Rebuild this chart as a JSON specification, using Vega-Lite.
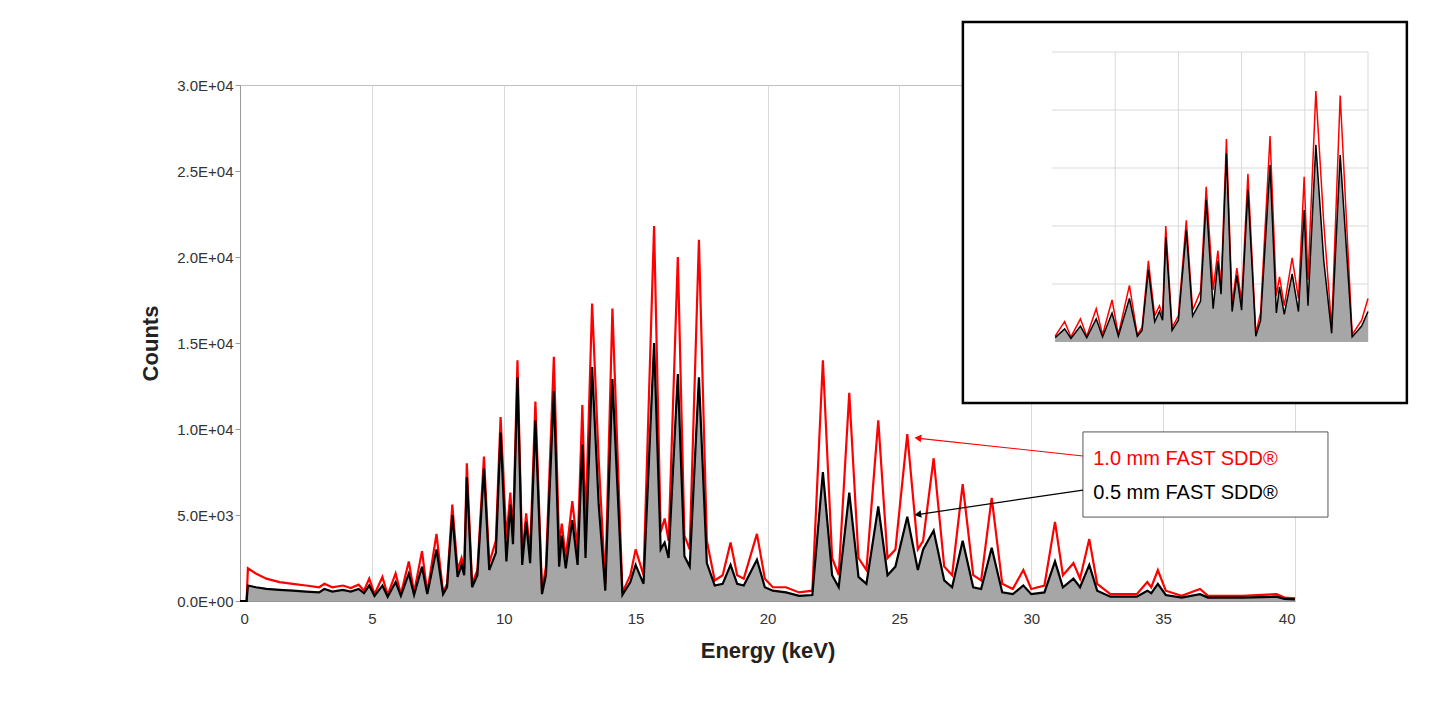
{
  "$schema": "https://vega.github.io/schema/vega-lite/v6.json",
  "autosize": "none",
  "padding": {"left": 240, "top": 85, "right": 142, "bottom": 102},
  "width": 1055,
  "height": 516,
  "background": "white",
  "config": {
    "font": "Liberation Sans",
    "view": {"stroke": "#bfbfbf"},
    "axis": {"labelFont": "Liberation Sans", "titleFont": "Liberation Sans", "labelColor": "#333", "domainColor": "#999", "tickColor": "#999", "gridColor": "#d9d9d9"}
  },
  "datasets": {
    "spec": [
      {"e": 0, "r": 0, "b": 0}, {"e": 0.25, "r": 0, "b": 0}, {"e": 0.3, "r": 1900, "b": 900},
      {"e": 0.6, "r": 1600, "b": 800}, {"e": 1.0, "r": 1300, "b": 700}, {"e": 1.5, "r": 1100, "b": 650},
      {"e": 2.0, "r": 1000, "b": 600}, {"e": 2.5, "r": 900, "b": 550}, {"e": 3.0, "r": 800, "b": 500},
      {"e": 3.2, "r": 1000, "b": 700}, {"e": 3.5, "r": 800, "b": 550}, {"e": 3.9, "r": 900, "b": 650},
      {"e": 4.2, "r": 750, "b": 550}, {"e": 4.5, "r": 950, "b": 700}, {"e": 4.7, "r": 600, "b": 450},
      {"e": 4.9, "r": 1300, "b": 900}, {"e": 5.1, "r": 400, "b": 300}, {"e": 5.4, "r": 1400, "b": 900},
      {"e": 5.6, "r": 350, "b": 250}, {"e": 5.9, "r": 1600, "b": 1100}, {"e": 6.1, "r": 400, "b": 300},
      {"e": 6.4, "r": 2300, "b": 1600}, {"e": 6.6, "r": 500, "b": 350}, {"e": 6.9, "r": 2900, "b": 2000},
      {"e": 7.1, "r": 500, "b": 400}, {"e": 7.45, "r": 3900, "b": 3000}, {"e": 7.7, "r": 500, "b": 400},
      {"e": 7.85, "r": 1000, "b": 800}, {"e": 8.05, "r": 5600, "b": 5000}, {"e": 8.25, "r": 1800, "b": 1400},
      {"e": 8.4, "r": 2500, "b": 2100}, {"e": 8.5, "r": 1800, "b": 1500}, {"e": 8.6, "r": 8000, "b": 7200},
      {"e": 8.8, "r": 1000, "b": 800}, {"e": 9.0, "r": 1800, "b": 1500}, {"e": 9.25, "r": 8400, "b": 7700},
      {"e": 9.45, "r": 2200, "b": 1800}, {"e": 9.7, "r": 3500, "b": 2800}, {"e": 9.88, "r": 10700, "b": 9800},
      {"e": 10.1, "r": 3600, "b": 2300}, {"e": 10.25, "r": 6300, "b": 5600}, {"e": 10.35, "r": 3800, "b": 3300},
      {"e": 10.52, "r": 14000, "b": 13000}, {"e": 10.7, "r": 2600, "b": 2100}, {"e": 10.85, "r": 5100, "b": 4600},
      {"e": 11.0, "r": 2800, "b": 2200}, {"e": 11.2, "r": 11600, "b": 10500}, {"e": 11.45, "r": 600, "b": 400},
      {"e": 11.6, "r": 2000, "b": 1500}, {"e": 11.9, "r": 14200, "b": 12200}, {"e": 12.1, "r": 3200, "b": 2000},
      {"e": 12.2, "r": 4500, "b": 3800}, {"e": 12.35, "r": 2500, "b": 1900}, {"e": 12.6, "r": 5800, "b": 4700},
      {"e": 12.8, "r": 3000, "b": 2100}, {"e": 12.98, "r": 11400, "b": 9100}, {"e": 13.1, "r": 4300, "b": 2500},
      {"e": 13.35, "r": 17300, "b": 13600}, {"e": 13.6, "r": 8200, "b": 5600}, {"e": 13.85, "r": 1000, "b": 600},
      {"e": 14.12, "r": 17000, "b": 12900}, {"e": 14.5, "r": 500, "b": 350}, {"e": 14.8, "r": 1500, "b": 1100},
      {"e": 15.0, "r": 3000, "b": 2100}, {"e": 15.3, "r": 1500, "b": 1000}, {"e": 15.7, "r": 21800, "b": 15000},
      {"e": 15.95, "r": 4000, "b": 3000}, {"e": 16.1, "r": 4800, "b": 3400}, {"e": 16.25, "r": 3500, "b": 2500},
      {"e": 16.6, "r": 20000, "b": 13200}, {"e": 16.85, "r": 3800, "b": 2600}, {"e": 17.05, "r": 3000, "b": 2000},
      {"e": 17.4, "r": 21000, "b": 13000}, {"e": 17.7, "r": 3500, "b": 2200}, {"e": 18.0, "r": 1200, "b": 900},
      {"e": 18.3, "r": 1500, "b": 1000}, {"e": 18.6, "r": 3400, "b": 2100}, {"e": 18.85, "r": 1500, "b": 1000},
      {"e": 19.1, "r": 1300, "b": 900}, {"e": 19.6, "r": 3900, "b": 2400}, {"e": 19.9, "r": 1300, "b": 800},
      {"e": 20.2, "r": 800, "b": 600}, {"e": 20.7, "r": 800, "b": 500}, {"e": 21.2, "r": 500, "b": 300},
      {"e": 21.7, "r": 600, "b": 350}, {"e": 22.1, "r": 14000, "b": 7500}, {"e": 22.45, "r": 2500, "b": 1500},
      {"e": 22.7, "r": 1500, "b": 800}, {"e": 23.1, "r": 12100, "b": 6300}, {"e": 23.45, "r": 2500, "b": 1400},
      {"e": 23.75, "r": 1800, "b": 1000}, {"e": 24.2, "r": 10500, "b": 5500}, {"e": 24.55, "r": 2500, "b": 1500},
      {"e": 24.85, "r": 3000, "b": 2000}, {"e": 25.3, "r": 9700, "b": 4900}, {"e": 25.7, "r": 3000, "b": 1800},
      {"e": 25.9, "r": 3500, "b": 3000}, {"e": 26.3, "r": 8300, "b": 4100}, {"e": 26.7, "r": 2000, "b": 1200},
      {"e": 27.0, "r": 1500, "b": 800}, {"e": 27.4, "r": 6800, "b": 3500}, {"e": 27.8, "r": 1500, "b": 800},
      {"e": 28.1, "r": 1200, "b": 700}, {"e": 28.5, "r": 6000, "b": 3100}, {"e": 28.9, "r": 1000, "b": 500},
      {"e": 29.3, "r": 700, "b": 400}, {"e": 29.7, "r": 1800, "b": 900}, {"e": 30.0, "r": 700, "b": 400},
      {"e": 30.5, "r": 900, "b": 500}, {"e": 30.9, "r": 4600, "b": 2300}, {"e": 31.2, "r": 1500, "b": 800},
      {"e": 31.6, "r": 2200, "b": 1300}, {"e": 31.85, "r": 1300, "b": 800}, {"e": 32.2, "r": 3600, "b": 2100},
      {"e": 32.5, "r": 1000, "b": 600}, {"e": 33.0, "r": 400, "b": 250}, {"e": 34.0, "r": 400, "b": 250},
      {"e": 34.4, "r": 1100, "b": 600}, {"e": 34.55, "r": 800, "b": 450}, {"e": 34.8, "r": 1800, "b": 1000},
      {"e": 35.1, "r": 600, "b": 350}, {"e": 35.7, "r": 300, "b": 200}, {"e": 36.4, "r": 700, "b": 400},
      {"e": 36.7, "r": 300, "b": 200}, {"e": 38.0, "r": 300, "b": 200}, {"e": 39.3, "r": 400, "b": 250},
      {"e": 39.6, "r": 200, "b": 120}, {"e": 40, "r": 150, "b": 100}
    ]
  },
  "resolve": {"scale": {"x": "independent", "y": "independent"}, "axis": {"x": "independent", "y": "independent"}},
  "layer": [
    {
      "data": {"name": "spec"},
      "layer": [
        {
          "mark": {"type": "area", "color": "#a6a6a6"},
          "encoding": {
            "x": {"field": "e", "type": "quantitative", "scale": {"domain": [0, 40], "nice": false},
              "axis": {"orient": "bottom", "values": [0, 5, 10, 15, 20, 25, 30, 35, 40], "title": "Energy (keV)", "titleFontSize": 22, "titleFontWeight": "bold", "titleColor": "#222", "labelFontSize": 15, "titlePadding": 14, "grid": true, "ticks": false, "labelPadding": 10}},
            "y": {"field": "b", "type": "quantitative", "scale": {"domain": [0, 30000], "nice": false},
              "axis": {"orient": "left", "values": [0, 5000, 10000, 15000, 20000, 25000, 30000], "grid": false, "title": "Counts", "titleFontSize": 22, "titleFontWeight": "bold", "titleColor": "#222", "labelFontSize": 15, "titlePadding": 14, "labelExpr": "replace(upper(format(datum.value, '.1e')), 'E+', 'E+0')"}}
          }
        },
        {
          "mark": {"type": "line", "color": "#ff0000", "strokeWidth": 2.2},
          "encoding": {"x": {"field": "e", "type": "quantitative"}, "y": {"field": "r", "type": "quantitative"}}
        },
        {
          "mark": {"type": "line", "color": "#000000", "strokeWidth": 2.2},
          "encoding": {"x": {"field": "e", "type": "quantitative"}, "y": {"field": "b", "type": "quantitative"}}
        },
        {
          "data": {"values": [{"x1": 31.96, "x2": 41.25, "y1": 4880, "y2": 9830}]},
          "mark": {"type": "rect", "fill": "white", "stroke": "#555", "strokeWidth": 1, "clip": false},
          "encoding": {"x": {"field": "x1", "type": "quantitative"}, "x2": {"field": "x2"}, "y": {"field": "y1", "type": "quantitative"}, "y2": {"field": "y2"}}
        },
        {
          "data": {"values": [{"x": 31.96, "y": 8430, "x2": 25.75, "y2": 9460}]},
          "mark": {"type": "rule", "color": "#ff0000", "strokeWidth": 1.2},
          "encoding": {"x": {"field": "x", "type": "quantitative"}, "x2": {"field": "x2"}, "y": {"field": "y", "type": "quantitative"}, "y2": {"field": "y2"}}
        },
        {
          "data": {"values": [{"x": 25.7, "y": 9470}]},
          "mark": {"type": "point", "shape": "triangle-left", "filled": true, "color": "#ff0000", "size": 60, "angle": 6, "opacity": 1},
          "encoding": {"x": {"field": "x", "type": "quantitative"}, "y": {"field": "y", "type": "quantitative"}}
        },
        {
          "data": {"values": [{"x": 31.96, "y": 6450, "x2": 25.75, "y2": 5040}]},
          "mark": {"type": "rule", "color": "#000000", "strokeWidth": 1.2},
          "encoding": {"x": {"field": "x", "type": "quantitative"}, "x2": {"field": "x2"}, "y": {"field": "y", "type": "quantitative"}, "y2": {"field": "y2"}}
        },
        {
          "data": {"values": [{"x": 25.7, "y": 5030}]},
          "mark": {"type": "point", "shape": "triangle-left", "filled": true, "color": "#000000", "size": 60, "angle": -8, "opacity": 1},
          "encoding": {"x": {"field": "x", "type": "quantitative"}, "y": {"field": "y", "type": "quantitative"}}
        },
        {
          "data": {"values": [{"x": 32.35, "y": 8230, "t": "1.0 mm FAST SDD®"}]},
          "mark": {"type": "text", "align": "left", "baseline": "middle", "fontSize": 20, "color": "#ff0000", "clip": false},
          "encoding": {"x": {"field": "x", "type": "quantitative"}, "y": {"field": "y", "type": "quantitative"}, "text": {"field": "t"}}
        },
        {
          "data": {"values": [{"x": 32.35, "y": 6300, "t": "0.5 mm FAST SDD®"}]},
          "mark": {"type": "text", "align": "left", "baseline": "middle", "fontSize": 20, "color": "#000000", "clip": false},
          "encoding": {"x": {"field": "x", "type": "quantitative"}, "y": {"field": "y", "type": "quantitative"}, "text": {"field": "t"}}
        }
      ]
    },
    {
      "layer": [
        {
          "data": {"values": [{"x1": 2.18, "x2": 16.23, "y1": -4207, "y2": 22069}]},
          "mark": {"type": "rect", "fill": "white", "stroke": "black", "strokeWidth": 2.5, "clip": false},
          "encoding": {
            "x": {"field": "x1", "type": "quantitative", "scale": {"domain": [5, 15], "nice": false, "range": [812, 1128]},
              "axis": {"orient": "bottom", "offset": -259, "values": [5, 7, 9, 11, 13, 15], "title": "Energy (keV)", "titleFontSize": 12, "titleFontWeight": "bold", "titleColor": "#222", "labelFontSize": 9, "grid": false, "ticks": false, "titlePadding": 6}},
            "x2": {"field": "x2"},
            "y": {"field": "y1", "type": "quantitative", "scale": {"domain": [0, 20000], "nice": false, "range": [257, -33]},
              "axis": {"orient": "left", "offset": -812, "values": [0, 4000, 8000, 12000, 16000, 20000], "grid": false, "title": "Counts", "titleFontSize": 12, "titleFontWeight": "bold", "titleColor": "#222", "labelFontSize": 9, "titlePadding": 6, "labelExpr": "replace(upper(format(datum.value, '.1e')), 'E+', 'E+0')"}},
            "y2": {"field": "y2"}
          }
        },
        {
          "data": {"values": [{"g": 7}, {"g": 9}, {"g": 11}, {"g": 13}, {"g": 15}]},
          "mark": {"type": "rule", "color": "#d9d9d9", "strokeWidth": 1},
          "encoding": {"x": {"field": "g", "type": "quantitative"}, "y": {"datum": 0}, "y2": {"datum": 20000}}
        },
        {
          "data": {"values": [{"g": 4000}, {"g": 8000}, {"g": 12000}, {"g": 16000}, {"g": 20000}]},
          "mark": {"type": "rule", "color": "#d9d9d9", "strokeWidth": 1},
          "encoding": {"y": {"field": "g", "type": "quantitative"}, "x": {"datum": 5}, "x2": {"datum": 15}}
        },
        {
          "data": {"name": "spec"},
          "transform": [{"filter": "datum.e >= 5.1 && datum.e <= 15.0"}],
          "layer": [
            {
              "mark": {"type": "area", "color": "#a6a6a6"},
              "encoding": {"x": {"field": "e", "type": "quantitative"}, "y": {"field": "b", "type": "quantitative"}}
            },
            {
              "mark": {"type": "line", "color": "#ff0000", "strokeWidth": 1.5},
              "encoding": {"x": {"field": "e", "type": "quantitative"}, "y": {"field": "r", "type": "quantitative"}}
            },
            {
              "mark": {"type": "line", "color": "#000000", "strokeWidth": 1.5},
              "encoding": {"x": {"field": "e", "type": "quantitative"}, "y": {"field": "b", "type": "quantitative"}}
            }
          ]
        }
      ]
    }
  ]
}
